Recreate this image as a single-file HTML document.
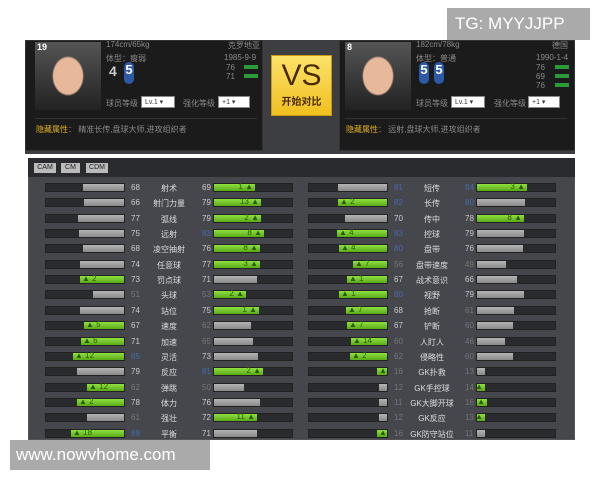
<!DOCTYPE html>
<html><head><meta charset="utf-8"><style>
*{margin:0;padding:0;box-sizing:border-box}
body{width:600px;height:480px;background:#fff;position:relative;overflow:hidden;font-family:"Liberation Sans","Noto Sans CJK SC",sans-serif}
.a{position:absolute}
.card{background:#1b1b1c;border:1px solid #333}
.t{color:#8a8a8a;font-size:8px;white-space:nowrap}
.sel{background:#fff;border:1px solid #888;font-size:7px;color:#333;padding:1px 3px}
.bar{position:absolute;height:9px;background:#2a2b2f;border:1px solid #222}
.f{position:absolute;top:0;height:7px}
.g{background:linear-gradient(#8fe040,#5aaa18)}
.gr{background:linear-gradient(#b4b4b4,#8a8a8a)}
.v{position:absolute;font-size:8px;width:20px}
.l{position:absolute;font-size:8px;color:#ddd;width:60px;text-align:center}
.d{position:absolute;top:-2px;font-size:8px;color:#2b5a00}
</style></head><body>
<div class="a" style="left:25px;top:40px;width:550px;height:114px;background:#3d3e42"></div>
<div class="a card" style="left:25px;top:40px;width:238px;height:111px"></div>
<div class="a card" style="left:339px;top:40px;width:236px;height:111px"></div>
<div class="a" style="left:35px;top:42px;width:66px;height:68px;background:radial-gradient(ellipse 16px 20px at 50% 50%,#e8b89a 90%,transparent 100%),linear-gradient(#555,#222)"></div>
<div class="a" style="left:345px;top:42px;width:66px;height:68px;background:radial-gradient(ellipse 16px 20px at 50% 50%,#e8b89a 90%,transparent 100%),linear-gradient(#555,#222)"></div>
<div class="a" style="left:37px;top:42px;color:#fff;font-size:9px;font-weight:bold">19</div>
<div class="a" style="left:347px;top:42px;color:#fff;font-size:9px;font-weight:bold">8</div>
<div class="a t" style="left:106px;top:40px">174cm/65kg</div>
<div class="a t" style="left:106px;top:53px">体型：瘦弱</div>
<div class="a t" style="left:228px;top:40px">克罗地亚</div>
<div class="a t" style="left:224px;top:53px">1985-9-9</div>
<div class="a" style="left:109px;top:63px;color:#ccc;font-size:14px;font-weight:bold">4</div>
<div class="a" style="left:124px;top:62px;width:10px;height:22px;background:#2c5aa8;border-radius:5px;color:#fff;font-size:13px;font-weight:bold;text-align:center">5</div>
<div class="a t" style="left:226px;top:63px">76</div><div class="a" style="left:244px;top:65px;width:14px;height:4px;background:#2a9a3a"></div>
<div class="a t" style="left:226px;top:72px">71</div><div class="a" style="left:244px;top:74px;width:14px;height:4px;background:#2a9a3a"></div>
<div class="a t" style="left:106px;top:98px">球员等级</div><div class="a sel" style="left:141px;top:96px;width:34px">Lv.1 ▾</div>
<div class="a t" style="left:183px;top:98px">强化等级</div><div class="a sel" style="left:218px;top:96px;width:32px">+1 ▾</div>
<div class="a" style="left:35px;top:118px;width:222px;height:1px;background:#333"></div>
<div class="a t" style="left:36px;top:124px"><span style="color:#e0b020">隐藏属性</span>： 精准长传,盘球大师,进攻组织者</div>
<div class="a t" style="left:416px;top:40px">182cm/78kg</div>
<div class="a t" style="left:416px;top:53px">体型：普通</div>
<div class="a t" style="left:552px;top:40px">德国</div>
<div class="a t" style="left:536px;top:53px">1990-1-4</div>
<div class="a" style="left:419px;top:62px;width:10px;height:22px;background:#2c5aa8;border-radius:5px;color:#fff;font-size:13px;font-weight:bold;text-align:center">5</div>
<div class="a" style="left:434px;top:62px;width:10px;height:22px;background:#2c5aa8;border-radius:5px;color:#fff;font-size:13px;font-weight:bold;text-align:center">5</div>
<div class="a t" style="left:536px;top:63px">76</div><div class="a" style="left:555px;top:65px;width:14px;height:4px;background:#2a9a3a"></div>
<div class="a t" style="left:536px;top:72px">69</div><div class="a" style="left:555px;top:74px;width:14px;height:4px;background:#2a9a3a"></div>
<div class="a t" style="left:536px;top:81px">76</div><div class="a" style="left:555px;top:83px;width:14px;height:4px;background:#2a9a3a"></div>
<div class="a t" style="left:416px;top:98px">球员等级</div><div class="a sel" style="left:451px;top:96px;width:34px">Lv.1 ▾</div>
<div class="a t" style="left:494px;top:98px">强化等级</div><div class="a sel" style="left:528px;top:96px;width:32px">+1 ▾</div>
<div class="a" style="left:345px;top:118px;width:222px;height:1px;background:#333"></div>
<div class="a t" style="left:346px;top:124px"><span style="color:#e0b020">隐藏属性</span>： 远射,盘球大师,进攻组织者</div>
<div class="a" style="left:271px;top:55px;width:61px;height:61px;background:linear-gradient(#fbe26a,#f0c020);border:1px solid #c99a10;text-align:center;color:#4a2a05">
<div style="font-size:30px;line-height:34px;margin-top:3px">VS</div><div style="font-size:10px;font-weight:bold">开始对比</div></div>
<div class="a" style="left:447px;top:8px;width:143px;height:32px;background:#aaa;color:#fff;font-size:17px;line-height:32px;padding-left:8px">TG: MYYJJPP</div>
<div class="a" style="left:28px;top:158px;width:547px;height:282px;background:#45474d;border:1px solid #555"></div>
<div class="a" style="left:28px;top:158px;width:547px;height:19px;background:#2a2b2e"></div>
<div class="a" style="left:34px;top:163px;width:22px;height:10px;background:#bbb;font-size:7px;line-height:10px;text-align:center;color:#222">CAM</div>
<div class="a" style="left:61px;top:163px;width:19px;height:10px;background:#bbb;font-size:7px;line-height:10px;text-align:center;color:#222">CM</div>
<div class="a" style="left:86px;top:163px;width:22px;height:10px;background:#bbb;font-size:7px;line-height:10px;text-align:center;color:#222">CDM</div>
<div id="rows"></div>
<div class="a" style="left:10px;top:440px;width:200px;height:30px;background:#aaa;color:#fff;font-size:17px;line-height:30px;padding-left:6px">www.nowvhome.com</div>
<script>
var L=[["射术",68,0,69,1],["射门力量",66,0,79,13],["弧线",77,0,79,2],["远射",75,0,83,8],["凌空抽射",68,0,76,8],["任意球",74,0,77,3],["罚点球",73,2,71,0],["头球",51,0,53,2],["站位",74,0,75,1],["速度",67,5,62,0],["加速",71,6,65,0],["灵活",85,12,73,0],["反应",79,0,81,2],["弹跳",62,12,50,0],["体力",78,2,76,0],["强壮",61,0,72,11],["平衡",89,18,71,0]];
var R=[["短传",81,0,84,3],["长传",82,2,80,0],["传中",70,0,78,8],["控球",83,4,79,0],["盘带",80,4,76,0],["盘带速度",56,7,49,0],["战术意识",67,1,66,0],["视野",80,1,79,0],["抢断",68,7,61,0],["铲断",67,7,60,0],["人盯人",60,14,46,0],["侵略性",62,2,60,0],["GK扑救",16,-1,13,0],["GK手控球",12,0,14,-1],["GK大脚开球",11,0,16,-1],["GK反应",12,0,13,-1],["GK防守站位",16,-1,11,0]];
function col(v){return v>=80?"#4a6aa8":(v<=65?"#777":"#ccc")}
var h="";
function side(data,x0){
data.forEach(function(r,i){
var y=183+i*15.35;
var w1=Math.max(8,Math.round(r[1]*0.6)), w2=Math.max(8,Math.round(r[3]*0.6));
var c1=r[2]?"g":"gr", c2=r[4]?"g":"gr";
var d1=r[2]>0?"▲ "+r[2]:(r[2]<0?"▲":""), d2=r[4]>0?r[4]+" ▲":(r[4]<0?"▲":"");
h+='<div class="bar" style="left:'+x0+'px;top:'+y+'px;width:80px"><div class="f '+c1+'" style="right:0;width:'+w1+'px"><span class="d" style="left:2px">'+d1+'</span></div></div>';
h+='<div class="v" style="left:'+(x0+86)+'px;top:'+(y)+'px;color:'+col(r[1])+'">'+r[1]+'</div>';
h+='<div class="l" style="left:'+(x0+94)+'px;top:'+(y)+'px">'+r[0]+'</div>';
h+='<div class="v" style="left:'+(x0+157)+'px;top:'+(y)+'px;color:'+col(r[3])+'">'+r[3]+'</div>';
h+='<div class="bar" style="left:'+(x0+168)+'px;top:'+y+'px;width:80px"><div class="f '+c2+'" style="left:0;width:'+w2+'px"><span class="d" style="right:2px">'+d2+'</span></div></div>';
});}
side(L,45);side(R,308);
document.getElementById("rows").innerHTML=h;
</script>
</body></html>
